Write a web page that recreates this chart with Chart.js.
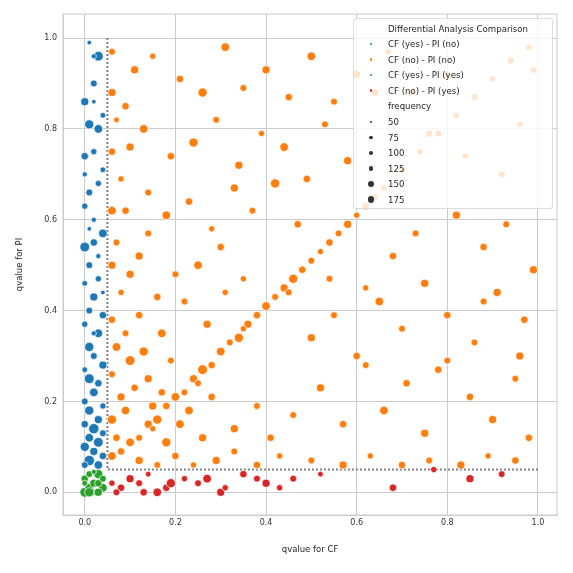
<!DOCTYPE html>
<html>
<head>
<meta charset="UTF-8">
<script src="https://cdn.jsdelivr.net/npm/chart.js@4"></script>
<style>
  body { margin: 0; background: #fff; font-family: "DejaVu Sans", sans-serif; }
  #wrap { position: relative; width: 573px; height: 573px; }
  #legend {
    position: absolute; left: 353px; top: 18px; width: 198px; height: 189px;
    background: rgba(255,255,255,0.8); border: 1px solid #ddd; border-radius: 3px;
    font-size: 8.6px; color: #262626;
  }
  #legend .row { position: absolute; left: 0; height: 12px; line-height: 12px; white-space: nowrap; }
  #legend .dot { position: absolute; border-radius: 50%; }
</style>
</head>
<body>
<div id="wrap">
  <canvas id="c" width="573" height="573"></canvas>
  <div id="legend"></div>
</div>
<script>
// categories
const groupNames = ['CF (yes) - PI (no)', 'CF (no)  - PI (no)', 'CF (yes) - PI (yes)', 'CF (no)  - PI (yes)'];
const groupColors = ['#1f77b4', '#ff7f0e', '#2ca02c', '#d62728'];
const sizeLevels = [50, 75, 100, 125, 150, 175];
const tickVals = [0, 0.2, 0.4, 0.6, 0.8, 1.0];

// [qvalue CF, qvalue PI, frequency]
const blueData = [
  [0.0,0.86,120],[0.01,0.81,140],[0.02,0.90,100],[0.03,0.96,150],[0.02,0.75,90],[0.0,0.74,110],
  [0.03,0.80,130],[0.04,0.83,80],[0.01,0.66,100],[0.0,0.63,90],[0.02,0.60,70],[0.04,0.57,130],
  [0.0,0.54,150],[0.02,0.55,110],[0.01,0.50,100],[0.03,0.47,90],[0.0,0.46,80],[0.02,0.43,120],
  [0.01,0.40,100],[0.04,0.39,110],[0.0,0.37,90],[0.03,0.35,130],[0.01,0.32,140],[0.02,0.30,100],
  [0.04,0.28,120],[0.0,0.27,80],[0.01,0.25,150],[0.03,0.24,110],[0.02,0.22,130],[0.0,0.20,100],
  [0.04,0.19,90],[0.01,0.18,140],[0.03,0.16,120],[0.0,0.15,110],[0.02,0.14,160],[0.04,0.13,100],
  [0.01,0.12,130],[0.03,0.11,150],[0.0,0.10,140],[0.02,0.09,120],[0.04,0.08,110],[0.01,0.07,160],
  [0.03,0.06,130],[0.0,0.06,100],[0.02,0.96,70],[0.01,0.99,60],[0.0,0.70,70],[0.03,0.68,90],
  [0.02,0.86,60],[0.04,0.71,80],[0.01,0.58,60],[0.03,0.52,70],[0.04,0.44,60],[0.02,0.35,70]
];
const orangeData = [
  // near the diagonal
  [0.08,0.09,110],[0.10,0.11,130],[0.12,0.12,100],[0.14,0.15,120],[0.16,0.16,140],[0.18,0.19,110],
  [0.20,0.21,130],[0.22,0.22,100],[0.24,0.25,120],[0.26,0.27,150],[0.28,0.28,110],[0.30,0.31,130],
  [0.32,0.33,100],[0.34,0.34,140],[0.36,0.37,120],[0.38,0.39,110],[0.40,0.41,130],[0.42,0.43,100],
  [0.44,0.45,120],[0.46,0.47,140],[0.48,0.49,110],[0.50,0.51,100],[0.52,0.53,90],[0.54,0.55,110],
  [0.56,0.57,100],[0.58,0.59,120],[0.60,0.61,90],[0.62,0.63,110],[0.64,0.65,100],[0.66,0.67,90],
  [0.70,0.71,100],[0.74,0.75,90],[0.78,0.79,100],[0.82,0.83,90],[0.86,0.87,100],[0.90,0.91,90],
  [0.94,0.95,100],[0.98,0.98,90],[0.15,0.14,90],[0.25,0.24,100],[0.35,0.36,90],[0.45,0.44,100],
  // near x = 0.05
  [0.06,0.97,100],[0.06,0.88,120],[0.07,0.82,80],[0.06,0.75,110],[0.08,0.69,90],[0.06,0.62,130],
  [0.07,0.55,100],[0.06,0.50,120],[0.08,0.44,90],[0.06,0.38,110],[0.07,0.32,130],[0.06,0.26,100],
  [0.08,0.21,120],[0.06,0.16,140],[0.07,0.12,110],[0.06,0.08,130],[0.09,0.35,100],[0.10,0.29,150],
  // near y = 0.05
  [0.12,0.07,120],[0.16,0.06,100],[0.20,0.08,110],[0.24,0.06,90],[0.29,0.07,120],[0.33,0.09,100],
  [0.38,0.06,110],[0.43,0.08,90],[0.50,0.07,100],[0.57,0.06,120],[0.63,0.08,90],[0.70,0.06,110],
  [0.76,0.07,100],[0.83,0.06,120],[0.89,0.08,90],[0.95,0.07,110],
  // scattered
  [0.11,0.93,120],[0.15,0.96,90],[0.21,0.91,110],[0.26,0.88,140],[0.31,0.98,130],[0.35,0.89,100],
  [0.40,0.93,120],[0.45,0.87,110],[0.50,0.96,130],[0.55,0.86,100],[0.60,0.92,120],[0.64,0.88,110],
  [0.67,0.97,90],[0.13,0.80,130],[0.19,0.74,110],[0.24,0.77,140],[0.29,0.82,100],[0.34,0.72,120],
  [0.39,0.79,90],[0.44,0.76,130],[0.49,0.69,110],[0.53,0.81,100],[0.58,0.73,120],[0.14,0.66,100],
  [0.18,0.61,130],[0.23,0.64,110],[0.28,0.58,90],[0.33,0.67,120],[0.37,0.62,100],[0.42,0.68,140],
  [0.47,0.59,110],[0.12,0.52,120],[0.20,0.48,100],[0.25,0.50,130],[0.30,0.54,110],[0.35,0.47,90],
  [0.12,0.39,110],[0.17,0.35,130],[0.22,0.42,100],[0.27,0.37,120],[0.31,0.44,90],[0.14,0.25,120],
  [0.19,0.29,100],[0.23,0.18,130],[0.28,0.21,110],[0.33,0.14,120],[0.38,0.19,100],[0.18,0.11,140],
  [0.26,0.12,120],[0.41,0.12,110],[0.46,0.17,100],[0.52,0.23,120],[0.57,0.15,110],[0.62,0.28,100],
  [0.66,0.18,130],[0.71,0.24,110],[0.75,0.13,120],[0.80,0.29,100],[0.85,0.21,110],[0.90,0.16,120],
  [0.95,0.25,100],[0.98,0.12,110],[0.50,0.34,120],[0.55,0.39,100],[0.60,0.30,110],[0.65,0.42,130],
  [0.70,0.36,100],[0.75,0.46,120],[0.80,0.39,110],[0.86,0.33,100],[0.91,0.44,120],[0.97,0.38,110],
  [0.54,0.47,100],[0.68,0.52,110],[0.73,0.57,100],[0.82,0.61,120],[0.88,0.54,110],[0.93,0.59,100],
  [0.99,0.49,120],[0.72,0.88,100],[0.76,0.79,110],[0.80,0.92,100],[0.84,0.74,90],[0.92,0.70,100],
  [0.96,0.81,90],[0.99,0.93,100],[0.62,0.45,90],[0.78,0.27,110],[0.88,0.42,100],[0.96,0.30,120],
  [0.09,0.62,110],[0.10,0.76,120],[0.09,0.18,130],[0.11,0.23,110],[0.13,0.31,140],[0.15,0.19,120],
  [0.17,0.22,110],[0.21,0.15,130],[0.16,0.43,110],[0.10,0.48,120],[0.14,0.57,100],[0.09,0.85,110]
];
const greenData = [
  [0.0,0.0,150],[0.01,0.01,130],[0.02,0.02,120],[0.03,0.04,140],[0.0,0.03,110],[0.01,0.04,100],
  [0.02,0.0,90],[0.04,0.01,130],[0.03,0.02,110],[0.0,0.02,80],[0.01,0.0,140],[0.04,0.03,100],
  [0.02,0.045,70],[0.03,0.0,120]
];
const redData = [
  [0.06,0.02,90],[0.08,0.01,110],[0.10,0.03,120],[0.12,0.02,100],[0.14,0.04,80],[0.16,0.0,130],
  [0.18,0.01,110],[0.19,0.02,140],[0.22,0.03,90],[0.25,0.02,100],[0.30,0.0,120],[0.31,0.01,90],
  [0.35,0.04,110],[0.38,0.03,100],[0.40,0.02,120],[0.43,0.01,90],[0.46,0.03,100],[0.52,0.04,80],
  [0.68,0.01,110],[0.77,0.05,90],[0.85,0.03,120],[0.92,0.04,100],[0.07,0.0,100],[0.13,0.0,110],
  [0.27,0.03,130]
];

function radiusFor(f) { return 2.0 + (f - 50) / 125 * 3.6; }

function makeSet(rows, i) {
  return {
    label: groupNames[i],
    data: rows.map(r => ({ x: r[0], y: r[1] })),
    pointRadius: rows.map(r => radiusFor(r[2])),
    backgroundColor: groupColors[i],
    borderColor: '#ffffff',
    borderWidth: 0.7,
    pointHoverRadius: rows.map(r => radiusFor(r[2]))
  };
}

const thresholdLines = {
  id: 'thresholds',
  beforeDatasetsDraw(chart) {
    const { ctx, scales: { x, y }, chartArea: a } = chart;
    ctx.save();
    ctx.strokeStyle = '#cccccc';
    ctx.lineWidth = 1;
    ctx.strokeRect(a.left, a.top, a.right - a.left, a.bottom - a.top);
    ctx.strokeStyle = '#808080';
    ctx.lineWidth = 2;
    ctx.setLineDash([2, 2]);
    ctx.beginPath();
    ctx.moveTo(x.getPixelForValue(0.05), y.getPixelForValue(1.0));
    ctx.lineTo(x.getPixelForValue(0.05), y.getPixelForValue(0.05));
    ctx.lineTo(x.getPixelForValue(1.0), y.getPixelForValue(0.05));
    ctx.stroke();
    ctx.restore();
  }
};

const tickFont = { family: 'DejaVu Sans', size: 8 };
new Chart(document.getElementById('c'), {
  type: 'scatter',
  data: { datasets: [makeSet(blueData, 0), makeSet(orangeData, 1), makeSet(greenData, 2), makeSet(redData, 3)] },
  options: {
    responsive: false,
    animation: false,
    layout: { padding: { top: 14, right: 16, left: 11, bottom: 14 } },
    plugins: { legend: { display: false }, tooltip: { enabled: false } },
    scales: {
      x: {
        min: -0.048, max: 1.042,
        afterBuildTicks: s => { s.ticks = tickVals.map(v => ({ value: v })); },
        afterFit: s => { s.height = 44; },
        ticks: { font: tickFont, color: '#333', callback: v => v.toFixed(1), maxRotation: 0 },
        grid: { color: '#cccccc', lineWidth: 1, drawTicks: false },
        border: { color: '#cccccc' },
        title: { display: true, text: 'qvalue for CF', font: { family: 'DejaVu Sans', size: 8.5 }, color: '#262626' }
      },
      y: {
        min: -0.05, max: 1.053,
        afterBuildTicks: s => { s.ticks = tickVals.map(v => ({ value: v })); },
        afterFit: s => { s.width = 52; },
        ticks: { font: tickFont, color: '#333', callback: v => v.toFixed(1), padding: 6 },
        grid: { color: '#cccccc', lineWidth: 1, drawTicks: false },
        border: { color: '#cccccc' },
        title: { display: true, text: 'qvalue for PI', font: { family: 'DejaVu Sans', size: 8.5 }, color: '#262626' }
      }
    }
  },
  plugins: [thresholdLines]
});

// legend
const legend = document.getElementById('legend');
function addRow(top, text, color, r) {
  const row = document.createElement('div');
  row.className = 'row';
  row.style.top = top + 'px';
  row.style.left = '34px';
  row.textContent = text;
  legend.appendChild(row);
  if (color) {
    const d = document.createElement('div');
    d.className = 'dot';
    d.style.width = d.style.height = (2 * r) + 'px';
    d.style.left = (17 - r) + 'px';
    d.style.top = (top + 6 - r) + 'px';
    d.style.background = color;
    legend.appendChild(d);
  }
}
addRow(4, 'Differential Analysis Comparison');
groupNames.forEach((n, i) => addRow(19 + i * 15.5, n, groupColors[i], 1.3));
addRow(81, 'frequency');
sizeLevels.forEach((s, i) => addRow(97 + i * 15.5, String(s), '#333', radiusFor(s) * 0.6));
</script>
</body>
</html>
